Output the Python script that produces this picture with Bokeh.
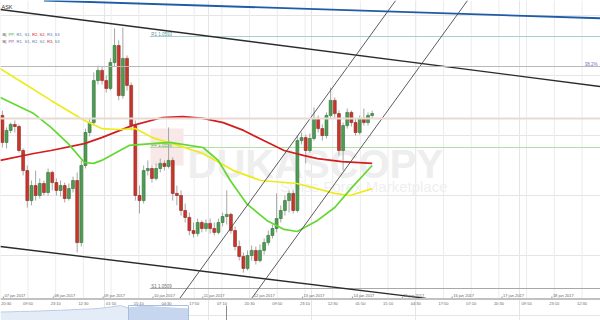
from bokeh.plotting import figure
from bokeh.models import Range1d, Span, ColumnDataSource
from bokeh.embed import file_html
from bokeh.resources import INLINE
from bokeh.core.properties import value

# ---------------- data ----------------
# 2-hour bars; hour 0 = the "20:30" label at the left edge
bar_hours = [1 + 2 * i for i in range(90)]
bar_open = [1.05667, 1.05577, 1.05617, 1.05637, 1.05630, 1.05550, 1.05483, 1.05383, 1.05433, 1.05400,
            1.05440, 1.05410, 1.05477, 1.05443, 1.05417, 1.05433, 1.05390, 1.05423, 1.05450, 1.05243,
            1.05500, 1.05610, 1.05643, 1.05783, 1.05817, 1.05783, 1.05757, 1.05843, 1.05900, 1.05733,
            1.05857, 1.05767, 1.05633, 1.05400, 1.05383, 1.05483, 1.05490, 1.05457, 1.05490, 1.05507,
            1.05497, 1.05517, 1.05407, 1.05400, 1.05350, 1.05327, 1.05283, 1.05273, 1.05310, 1.05290,
            1.05307, 1.05290, 1.05277, 1.05310, 1.05330, 1.05337, 1.05283, 1.05230, 1.05197, 1.05157,
            1.05200, 1.05217, 1.05183, 1.05217, 1.05243, 1.05267, 1.05290, 1.05323, 1.05350, 1.05383,
            1.05407, 1.05350, 1.05583, 1.05593, 1.05550, 1.05590, 1.05657, 1.05623, 1.05600, 1.05667,
            1.05717, 1.05673, 1.05550, 1.05633, 1.05677, 1.05643, 1.05610, 1.05657, 1.05643, 1.05667]
bar_high = [1.05683, 1.05627, 1.05643, 1.05650, 1.05637, 1.05557, 1.05500, 1.05450, 1.05483, 1.05457,
            1.05450, 1.05490, 1.05483, 1.05457, 1.05450, 1.05443, 1.05440, 1.05463, 1.05477, 1.05517,
            1.05623, 1.05657, 1.05810, 1.05833, 1.05830, 1.05800, 1.05857, 1.05957, 1.05917, 1.05960,
            1.05867, 1.05777, 1.05650, 1.05433, 1.05500, 1.05517, 1.05500, 1.05507, 1.05523, 1.05517,
            1.05627, 1.05527, 1.05433, 1.05417, 1.05373, 1.05343, 1.05310, 1.05323, 1.05317, 1.05320,
            1.05323, 1.05310, 1.05323, 1.05343, 1.05417, 1.05343, 1.05297, 1.05250, 1.05210, 1.05217,
            1.05233, 1.05230, 1.05237, 1.05257, 1.05283, 1.05303, 1.05407, 1.05367, 1.05400, 1.05417,
            1.05417, 1.05600, 1.05610, 1.05603, 1.05607, 1.05693, 1.05667, 1.05637, 1.05677, 1.05760,
            1.05727, 1.05683, 1.05643, 1.05690, 1.05683, 1.05657, 1.05667, 1.05690, 1.05677, 1.05683]
bar_low = [1.05560, 1.05557, 1.05607, 1.05610, 1.05543, 1.05467, 1.05360, 1.05367, 1.05383, 1.05390,
           1.05400, 1.05400, 1.05417, 1.05400, 1.05397, 1.05377, 1.05383, 1.05410, 1.05210, 1.05230,
           1.05490, 1.05597, 1.05633, 1.05770, 1.05770, 1.05743, 1.05750, 1.05830, 1.05717, 1.05723,
           1.05750, 1.05617, 1.05383, 1.05340, 1.05373, 1.05467, 1.05443, 1.05450, 1.05477, 1.05483,
           1.05490, 1.05383, 1.05367, 1.05333, 1.05310, 1.05267, 1.05260, 1.05263, 1.05277, 1.05280,
           1.05273, 1.05267, 1.05270, 1.05297, 1.05303, 1.05273, 1.05217, 1.05183, 1.05143, 1.05150,
           1.05183, 1.05170, 1.05177, 1.05203, 1.05233, 1.05257, 1.05277, 1.05310, 1.05333, 1.05343,
           1.05340, 1.05343, 1.05570, 1.05507, 1.05543, 1.05583, 1.05610, 1.05583, 1.05590, 1.05657,
           1.05657, 1.05533, 1.05483, 1.05623, 1.05630, 1.05600, 1.05603, 1.05633, 1.05633, 1.05657]
bar_close = [1.05577, 1.05617, 1.05637, 1.05630, 1.05550, 1.05483, 1.05383, 1.05433, 1.05400, 1.05440,
             1.05410, 1.05477, 1.05443, 1.05417, 1.05433, 1.05390, 1.05423, 1.05450, 1.05243, 1.05500,
             1.05610, 1.05643, 1.05783, 1.05817, 1.05783, 1.05757, 1.05843, 1.05900, 1.05733, 1.05857,
             1.05767, 1.05633, 1.05400, 1.05383, 1.05483, 1.05490, 1.05457, 1.05490, 1.05507, 1.05497,
             1.05517, 1.05407, 1.05400, 1.05350, 1.05327, 1.05283, 1.05273, 1.05310, 1.05290, 1.05307,
             1.05290, 1.05277, 1.05310, 1.05330, 1.05337, 1.05283, 1.05230, 1.05197, 1.05157, 1.05200,
             1.05217, 1.05183, 1.05217, 1.05243, 1.05267, 1.05290, 1.05323, 1.05350, 1.05383, 1.05407,
             1.05350, 1.05583, 1.05593, 1.05550, 1.05590, 1.05657, 1.05623, 1.05600, 1.05667, 1.05717,
             1.05673, 1.05550, 1.05633, 1.05677, 1.05643, 1.05610, 1.05657, 1.05643, 1.05667, 1.05673]

ma_red_hours = [0, 16.1, 24.4, 40.5, 48.8, 63.4, 78.0, 87.8, 97.6, 107.3, 117.1, 126.8, 136.6, 146.3, 152.7, 164.4, 179.0]
ma_red = [1.05517, 1.05540, 1.05550, 1.05573, 1.05593, 1.05633, 1.05660, 1.05663, 1.05657, 1.05643,
          1.05617, 1.05583, 1.05550, 1.05533, 1.05523, 1.05513, 1.05507]
ma_yellow_hours = [0, 12.2, 24.4, 40.5, 48.8, 57.1, 64.9, 73.2, 85.4, 97.6, 112.2, 125.4, 142.9, 161.0, 168.3, 179.0]
ma_yellow = [1.05823, 1.05770, 1.05717, 1.05650, 1.05623, 1.05620, 1.05623, 1.05593, 1.05567, 1.05540,
             1.05483, 1.05450, 1.05440, 1.05407, 1.05400, 1.05423]
ma_green_hours = [0, 16.1, 24.4, 32.7, 40.5, 44.9, 48.8, 62.0, 73.2, 81.5, 97.6, 104.9, 110.7, 118.5,
                  128.3, 136.6, 142.9, 152.7, 161.0, 169.3, 179.0]
ma_green = [1.05727, 1.05673, 1.05627, 1.05573, 1.05510, 1.05507, 1.05517, 1.05567, 1.05573, 1.05577,
            1.05560, 1.05517, 1.05450, 1.05373, 1.05317, 1.05287, 1.05280, 1.05317, 1.05360, 1.05427, 1.05500]

pivot_names = ["R1", "PP", "S1"]
pivot_values = [1.0593, 1.0556, 1.0509]
pivot_line_colors = ["#a6d0d0", "#b2e0a2", "#a8a8a8"]
pivot_text_colors = ["#5e9c9c", "#6aa85a", "#707070"]
pivot_start_hour = 72
fib_label = "38.2%"
fib_value = 1.0583
ref_value = 1.05657

trend_top_hours, trend_top = [0.0, 292.7], [1.0602, 1.0576]
trend_bottom_hours, trend_bottom = [0.0, 204.9], [1.0523, 1.05057]
trend_blue_hours, trend_blue = [21.0, 292.7], [1.0605, 1.0599]
channel_left_hours, channel_left = [86.4, 190.3], [1.05057, 1.0605]
channel_right_hours, channel_right = [121.0, 224.9], [1.05057, 1.0605]

time_labels = ["20:30", "09:50", "23:10", "12:30", "01:50", "15:10", "04:30", "17:50", "07:10", "20:30", "09:50",
               "23:10", "12:30", "01:50", "15:10", "04:30", "17:50", "07:10", "20:30", "09:50", "23:10", "12:30"]
time_label_hours = [k * 40 / 3 for k in range(len(time_labels))]
date_labels = ["07 jan 2017", "08 jan 2017", "09 jan 2017", "10 jan 2017", "11 jan 2017", "12 jan 2017",
               "13 jan 2017", "14 jan 2017", "15 jan 2017", "16 jan 2017", "17 jan 2017", "18 jan 2017"]
date_hours = [1.5 + 24 * k for k in range(len(date_labels))]

legend_tokens = ["B|", "PP,", "R1,", "S1,", "R2,", "S2,", "R3,", "S3"]
legend_row1_colors = ["#444444", "#3cab43", "#5b7fb5", "#5b7fb5", "#d03030", "#d03030", "#5b7fb5", "#5b7fb5"]
legend_row2_colors = ["#444444", "#b040b0", "#5b7fb5", "#5b7fb5", "#5b7fb5", "#5b7fb5", "#d03030", "#5b7fb5"]

nav_days = [0, 0.5, 1, 1.5, 2, 2.5, 3, 3.5, 4, 4.5, 5, 5.5, 6, 6.4, 6.7, 7, 7.4, 7.7, 8, 8.5, 9, 9.4]
nav_vals = [1.057, 1.0574, 1.058, 1.0584, 1.059, 1.060, 1.0604, 1.0614, 1.0624, 1.063, 1.0644, 1.067,
            1.070, 1.065, 1.066, 1.068, 1.069, 1.067, 1.0664, 1.065, 1.064, 1.063]
nav_window = (6.4, 9.4)
nav_marker_day = 11.3

# ---------------- layout helpers ----------------
W, H = 600, 320
PX_PER_HOUR = 2.0775
PRICE_TOP = 1.0605
PRICE_PER_PX = 1 / 30000
T_LEFT = 0.2 / PX_PER_HOUR
T_RIGHT = T_LEFT + W / PX_PER_HOUR
NAV_BASE = 1.04
NAV_PER_PX = 0.002


def hx(px):
    return T_LEFT + px / PX_PER_HOUR


def py(pyx):
    return PRICE_TOP - pyx * PRICE_PER_PX


FONT = value("Liberation Sans")

p = figure(width=W, height=H, x_range=Range1d(T_LEFT, T_RIGHT), y_range=Range1d(py(H), PRICE_TOP),
           output_backend="svg", toolbar_location=None, min_border=0,
           x_axis_location=None, y_axis_location=None)
p.outline_line_color = None
p.background_fill_color = "white"
p.border_fill_color = "white"
p.extra_x_ranges = {"nav": Range1d(0, W / 20)}
p.extra_y_ranges = {"navy": Range1d(NAV_BASE, NAV_BASE + H * NAV_PER_PX)}

# vertical grid
p.segment(x0=time_label_hours, y0=py(0), x1=time_label_hours, y1=py(298),
          line_color="#ececec", line_width=1)

# watermark
p.quad(left=hx(150), right=hx(183), top=py(128), bottom=py(165), fill_color="#f8e8e8", line_color=None)
p.text(x=[hx(187)], y=[py(163)], text=["DUKASCOPY"], text_font=FONT, text_font_size="40px",
       text_font_style="bold", text_color="#eeeeee", text_baseline="alphabetic", text_align="left")
p.text(x=[hx(447)], y=[py(186)], text=["Swiss Forex Marketplace"], text_font=FONT, text_font_size="15px",
       text_color="#efefef", text_baseline="alphabetic", text_align="right")

# full-width levels
p.add_layout(Span(location=fib_value, dimension="width", line_color="#b8b8b8", line_width=1))
p.add_layout(Span(location=ref_value, dimension="width", line_color="#e8d9d2", line_width=2))

# pivot levels
p.segment(x0=[pivot_start_hour] * 3, y0=pivot_values, x1=[T_RIGHT] * 3, y1=pivot_values,
          line_color=pivot_line_colors, line_width=1)
p.text(x=[pivot_start_hour + 0.6] * 3, y=pivot_values,
       text=[f"{n} {v:.4f}" for n, v in zip(pivot_names, pivot_values)],
       text_color=pivot_text_colors, text_font=FONT, text_font_size="4.5px",
       text_baseline="bottom", text_align="left")
p.text(x=[hx(597)], y=[fib_value], text=[fib_label], text_color="#7474b8", text_font=FONT,
       text_font_size="4.5px", text_baseline="bottom", text_align="right")

# candles
up = [c >= o for o, c in zip(bar_open, bar_close)]
src = ColumnDataSource(dict(
    t=bar_hours, high=bar_high, low=bar_low,
    top=[max(o, c) for o, c in zip(bar_open, bar_close)],
    bottom=[min(o, c) for o, c in zip(bar_open, bar_close)],
    fill=["#4f9d55" if u else "#c8372d" for u in up],
    line=["#2f6e34" if u else "#8e2019" for u in up],
))
p.segment(x0="t", y0="low", x1="t", y1="high", line_color="#a6a6a6", line_width=1, source=src)
p.vbar(x="t", width=1.4, top="top", bottom="bottom", fill_color="fill", line_color="line",
       line_width=0.6, source=src)

# moving averages
p.line(ma_red_hours, ma_red, line_color="#d21e1e", line_width=1.7)
p.line(ma_yellow_hours, ma_yellow, line_color="#ecec1c", line_width=1.7)
p.line(ma_green_hours, ma_green, line_color="#62d831", line_width=1.7)

# trend / channel lines
p.line(trend_top_hours, trend_top, line_color="#2b2b2b", line_width=1.4)
p.line(trend_bottom_hours, trend_bottom, line_color="#2b2b2b", line_width=1.4)
p.line(trend_blue_hours, trend_blue, line_color="#1f5ca6", line_width=1.8)
p.line(channel_left_hours, channel_left, line_color="#4a4a4a", line_width=0.9)
p.line(channel_right_hours, channel_right, line_color="#4a4a4a", line_width=0.9)

# legend rows top-left
legend_px = [2, 8, 16, 24, 31.5, 39, 46.5, 54]
p.text(x=[hx(v) for v in legend_px], y=[py(33.5)] * 8, text=legend_tokens, text_color=legend_row1_colors,
       text_font=FONT, text_font_size="4.2px", text_baseline="middle", text_align="left")
p.text(x=[hx(v) for v in legend_px], y=[py(40.5)] * 8, text=legend_tokens, text_color=legend_row2_colors,
       text_font=FONT, text_font_size="4.2px", text_baseline="middle", text_align="left")
p.text(x=[hx(1)], y=[py(6)], text=["ASK"], text_color="#333333", text_font=FONT,
       text_font_size="5.5px", text_baseline="middle", text_align="left")

# time axis
p.add_layout(Span(location=py(298.5), dimension="width", line_color="#c2c2c2", line_width=2))
p.segment(x0=date_hours, y0=py(296), x1=date_hours, y1=py(298), line_color="#999999", line_width=1)
p.text(x=date_hours, y=[py(295)] * len(date_hours), text=date_labels, x_offset=1,
       text_color="#666666", text_font=FONT, text_font_size="4px", text_baseline="middle", text_align="left")
p.text(x=time_label_hours[:1], y=[py(302.5)], text=time_labels[:1], x_offset=1,
       text_color="#666666", text_font=FONT, text_font_size="4px", text_baseline="middle", text_align="left")
p.text(x=time_label_hours[1:], y=[py(302.5)] * (len(time_label_hours) - 1), text=time_labels[1:],
       text_color="#666666", text_font=FONT, text_font_size="4px", text_baseline="middle", text_align="center")

# navigator
p.varea(x=nav_days, y1=NAV_BASE, y2=nav_vals, fill_color="#e4ecf7", x_range_name="nav", y_range_name="navy")
p.line(nav_days, nav_vals, line_color="#bccde6", line_width=1, x_range_name="nav", y_range_name="navy")
win_x = [d for d in nav_days if nav_window[0] <= d <= nav_window[1]]
win_y = [v for d, v in zip(nav_days, nav_vals) if nav_window[0] <= d <= nav_window[1]]
p.varea(x=win_x, y1=NAV_BASE, y2=win_y, fill_color="#c6d6ef", x_range_name="nav", y_range_name="navy")
p.quad(left=nav_window[0], right=nav_window[1], bottom=NAV_BASE, top=NAV_BASE + 15 * NAV_PER_PX,
       fill_color=None, line_color="#a9bddd", line_width=1, x_range_name="nav", y_range_name="navy")
p.segment(x0=[nav_marker_day], y0=[NAV_BASE], x1=[nav_marker_day], y1=[NAV_BASE + 15 * NAV_PER_PX],
          line_color="#8a8a8a", line_width=1, x_range_name="nav", y_range_name="navy")

open("out.html", "w").write(file_html(p, INLINE))
